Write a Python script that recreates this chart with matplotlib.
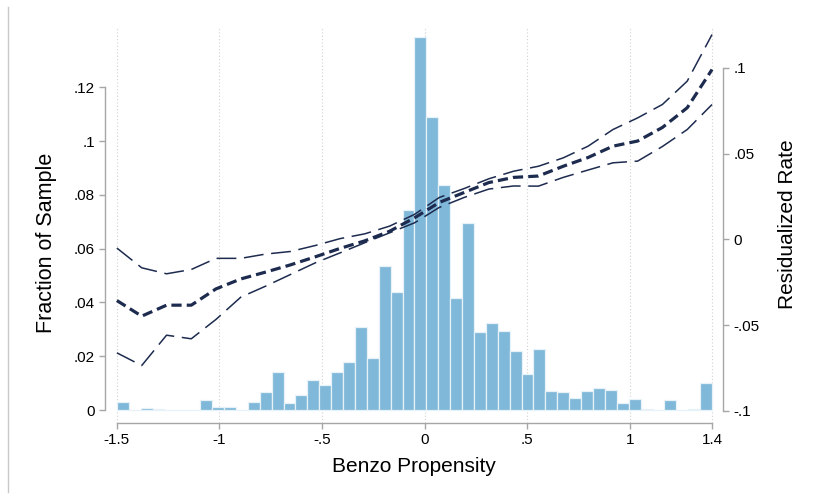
import numpy as np
import matplotlib
matplotlib.use('Agg')
import matplotlib.pyplot as plt
from matplotlib.lines import Line2D

plt.rcParams['font.family'] = ['Liberation Sans', 'DejaVu Sans']

# Histogram of benzo propensity: 50 equal bins from -1.5 to 1.4
bin_lo, bin_hi, n_bins = -1.5, 1.4, 50
fractions = [0.003, 0.0, 0.0008, 0.0003, 0.0, 0.0, 0.0, 0.0037, 0.001, 0.001,
             0.0, 0.003, 0.0068, 0.014, 0.0026, 0.0056, 0.011, 0.0094, 0.014, 0.0178,
             0.0309, 0.0192, 0.0536, 0.0437, 0.0743, 0.1388, 0.1088, 0.0838, 0.0415, 0.0695,
             0.0289, 0.0325, 0.0292, 0.0219, 0.0133, 0.0228, 0.0072, 0.0067, 0.0046, 0.0071,
             0.0083, 0.0075, 0.0025, 0.0041, 0.0003, 0.0, 0.0037, 0.0, 0.0005, 0.0101]

# Residualized rate (binned fit) with upper / lower confidence bounds
fit_x = [-1.5, -1.379, -1.258, -1.1375, -1.017, -0.896, -0.775, -0.654, -0.533,
         -0.4125, -0.292, -0.171, -0.05, 0.071, 0.192, 0.3125, 0.433, 0.554,
         0.675, 0.796, 0.917, 1.0375, 1.158, 1.279, 1.4]
fit_mid = [-0.0356, -0.0447, -0.0383, -0.0383, -0.0288, -0.023, -0.019, -0.0148,
           -0.0101, -0.0052, -0.0008, 0.0048, 0.0126, 0.0216, 0.0274, 0.0332, 0.0362,
           0.037, 0.0427, 0.0478, 0.0544, 0.0574, 0.0653, 0.0768, 0.0991]
fit_upper = [-0.005, -0.0165, -0.020, -0.0175, -0.011, -0.011, -0.0085, -0.007,
             -0.0035, 0.0005, 0.0033, 0.0078, 0.0146, 0.0245, 0.0297, 0.0354, 0.0398,
             0.0427, 0.0476, 0.0544, 0.0641, 0.0709, 0.0787, 0.0923, 0.1195]
fit_lower = [-0.0661, -0.0735, -0.0558, -0.0579, -0.0466, -0.0336, -0.0272, -0.0204,
             -0.0136, -0.0078, -0.0019, 0.0039, 0.0097, 0.0187, 0.0245, 0.0294, 0.0312,
             0.0311, 0.0362, 0.0405, 0.0447, 0.0457, 0.0542, 0.0641, 0.0787]

x_ticks = [-1.5, -1, -0.5, 0, 0.5, 1, 1.4]
x_tick_labels = ['-1.5', '-1', '-.5', '0', '.5', '1', '1.4']
left_ticks = [0, 0.02, 0.04, 0.06, 0.08, 0.1, 0.12]
left_tick_labels = ['0', '.02', '.04', '.06', '.08', '.1', '.12']
right_ticks = [-0.1, -0.05, 0, 0.05, 0.1]
right_tick_labels = ['-.1', '-.05', '0', '.05', '.1']

bar_color = '#80b8d9'
line_color = '#1d2b4f'
axis_gray = '#a6a6a6'

fig = plt.figure(figsize=(8.22, 4.98), dpi=100)
ax = fig.add_axes([0.1277, 0.1506, 0.7519, 0.7952])

# Histogram bars
edges = np.linspace(bin_lo, bin_hi, n_bins + 1)
ax.bar(edges[:-1], fractions, width=edges[1] - edges[0], align='edge',
       color=bar_color, edgecolor='#e6f1f8', linewidth=0.9, zorder=2)

ax.set_xlim(-1.558, 1.4536)
ax.set_ylim(-0.00483, 0.1424)

# Dotted vertical grid at x ticks
for xv in x_ticks:
    ax.axvline(xv, color='#d2d2d2', linestyle=(0, (1, 2)), linewidth=0.8, zorder=1)

# Stata style axes: spines only between end ticks
for side in ['top', 'right']:
    ax.spines[side].set_visible(False)
ax.spines['left'].set_bounds(0, 0.12)
ax.spines['bottom'].set_bounds(-1.5, 1.4)
for side in ['left', 'bottom']:
    ax.spines[side].set_color(axis_gray)
    ax.spines[side].set_linewidth(1.0)

ax.set_xticks(x_ticks)
ax.set_xticklabels(x_tick_labels)
ax.set_yticks(left_ticks)
ax.set_yticklabels(left_tick_labels)
ax.tick_params(axis='both', colors=axis_gray, labelcolor='black', labelsize=11,
               length=4.3, width=1.0, pad=3)

ax.set_xlabel('Benzo Propensity', fontsize=15)
ax.xaxis.set_label_coords(0.5, -0.086)
ax.set_ylabel('Fraction of Sample', fontsize=15.5)
ax.yaxis.set_label_coords(-0.078, 0.455)

# Right axis with the fitted lines
ax2 = ax.twinx()
ax2.set_ylim(-0.107, 0.1239)
ax2.plot(fit_x, fit_upper, color=line_color, linewidth=1.1,
         linestyle=(0, (13, 5)), zorder=3)
ax2.plot(fit_x, fit_lower, color=line_color, linewidth=1.1,
         linestyle=(0, (13, 5)), zorder=3)
ax2.plot(fit_x, fit_mid, color=line_color, linewidth=2.3,
         linestyle=(0, (3.2, 1.6)), zorder=4)

for side in ['top', 'left', 'bottom']:
    ax2.spines[side].set_visible(False)
ax2.spines['right'].set_bounds(-0.1, 0.1)
ax2.spines['right'].set_color(axis_gray)
ax2.spines['right'].set_linewidth(1.0)
ax2.set_yticks(right_ticks)
ax2.set_yticklabels(right_tick_labels)
ax2.tick_params(axis='y', colors=axis_gray, labelcolor='black', labelsize=11,
                length=4.3, width=1.0, pad=3)
ax2.set_ylabel('Residualized Rate', fontsize=15)
ax2.yaxis.set_label_coords(1.089, 0.503)

# Thin gray frame line on the left edge of the picture
fig.add_artist(Line2D([0.0097, 0.0097], [0.012, 0.986], color='#c8c8c8',
                      linewidth=1.0, transform=fig.transFigure))

fig.savefig('out.png', dpi=100)
